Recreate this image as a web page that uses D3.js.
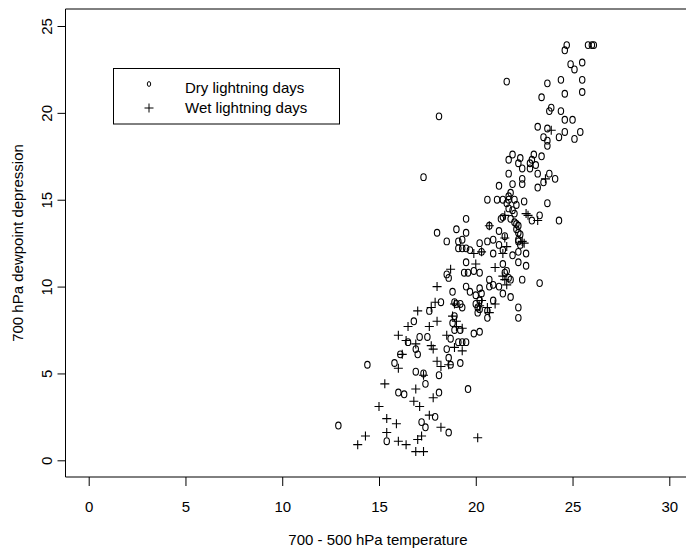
<!DOCTYPE html>
<html><head><meta charset="utf-8">
<script src="https://cdn.jsdelivr.net/npm/d3@7"></script>
<style>body{margin:0;background:#fff} text{font-family:"Liberation Sans",Arial,sans-serif;fill:#000}</style>
</head><body><svg id="c" width="686" height="550"></svg>
<script>
const dryX=[16.8,18.8,18.9,19.2,17.1,17.5,18.7,19.9,20.2,16.5,19.1,19.3,19.5,16.9,17.0,18.5,16.1,18.6,18.7,19.2,14.4,15.8,16.9,17.3,18.1,17.4,19.6,16.0,16.3,18.1,17.9,17.2,17.4,18.6,12.9,15.4,
20.6,21.1,21.4,21.7,21.8,22.0,22.1,22.5,23.7,21.7,21.9,22.0,23.3,22.9,21.4,21.3,21.8,22.0,22.1,19.5,20.7,21.2,22.1,22.2,22.3,22.2,21.5,18.0,19.0,19.5,18.5,19.3,19.1,20.2,20.6,20.9,21.2,22.2,22.3,19.1,19.3,19.5,19.7,20.3,20.9,21.4,22.2,22.6,21.9,19.5,21.4,22.2,22.6,18.5,18.6,19.4,19.6,19.9,20.2,21.6,21.5,21.7,21.8,20.7,22.4,23.3,20.7,20.9,21.2,19.5,19.7,18.8,20.2,20.3,21.4,21.8,20.0,20.2,20.9,18.2,18.9,19.0,19.2,19.3,20.0,20.1,20.2,20.1,20.6,20.6,22.2,22.2,17.6,18.9,
24.9,25.1,25.5,24.7,24.6,25.8,26.0,26.1,21.6,23.7,24.4,25.5,24.6,25.5,23.4,23.9,23.8,24.4,24.6,25.0,18.1,23.2,23.7,24.6,25.4,24.3,25.1,23.5,23.7,23.7,21.9,21.7,22.3,22.2,23.0,22.9,23.4,22.8,23.1,22.4,22.8,21.7,23.2,23.8,24.1,22.4,22.4,21.9,21.2,23.2,23.5,21.7,
21.6,24.3,22.2,17.3];
const dryY=[8.0,7.9,7.5,7.5,7.1,7.1,7.0,7.3,7.4,6.8,6.8,6.8,6.8,6.4,6.1,6.4,6.1,5.9,5.5,5.6,5.5,5.6,5.1,5.0,4.9,4.4,4.1,3.9,3.8,3.9,2.5,2.2,1.9,1.6,2.0,1.1,
15.0,15.0,15.0,15.0,15.4,15.0,14.7,14.9,14.8,14.5,14.4,14.2,14.1,13.8,14.0,13.9,13.9,13.7,13.6,13.9,13.5,13.2,13.3,13.1,13.0,12.7,12.9,13.1,13.3,13.1,12.6,12.7,12.6,12.5,12.6,12.7,12.4,12.6,12.4,12.2,12.2,12.2,12.1,12.0,11.9,12.1,12.0,11.9,11.8,11.4,11.3,11.4,11.2,10.7,10.5,10.8,10.8,10.9,10.8,10.9,10.8,10.5,10.4,10.4,10.4,10.2,10.0,10.1,10.0,10.0,9.7,9.7,9.9,9.6,9.6,9.4,9.5,9.2,9.2,9.1,9.1,9.0,9.0,8.8,9.0,8.8,8.7,8.5,8.6,8.2,8.8,8.2,8.6,8.3,
22.8,22.5,22.9,23.9,23.6,23.9,23.9,23.9,21.8,21.7,21.9,21.9,21.1,21.2,20.9,20.3,20.1,20.1,19.6,19.6,19.8,19.2,19.1,18.9,18.9,18.6,18.5,18.6,18.4,18.1,17.6,17.3,17.4,17.1,17.6,17.3,17.5,17.1,17.0,16.8,16.8,16.5,16.5,16.5,16.2,16.2,15.9,15.9,15.8,15.7,16.0,15.2,
14.8,13.8,13.5,16.3];
const wetX=[16.5,17.6,18.0,16.0,16.4,16.9,17.7,17.8,18.5,19.0,19.3,18.9,19.3,16.2,16.0,18.0,18.2,18.6,17.3,15.3,16.9,17.8,16.8,17.1,15.0,17.6,15.4,15.9,18.2,15.4,17.2,17.0,14.3,13.9,16.0,16.4,16.9,17.3,20.1,
21.5,22.6,22.7,23.2,20.7,21.5,22.4,22.5,21.6,19.9,20.3,21.4,20.0,21.0,18.7,21.4,21.5,21.6,18.0,20.3,21.0,20.6,20.7,18.9,17.9,17.7,17.0,18.8,19.0,20.2,
23.6,23.9];
const wetY=[7.7,7.7,8.0,7.2,6.9,6.7,6.6,6.4,7.2,7.7,7.6,6.5,6.3,6.1,5.3,5.7,5.4,5.5,4.9,4.4,4.1,3.6,3.4,3.1,3.1,2.6,2.4,2.1,1.9,1.6,1.4,1.2,1.4,0.9,1.1,0.9,0.5,0.5,1.3,
14.1,14.2,14.1,13.8,13.5,12.8,12.6,12.5,12.3,11.9,12.0,11.9,11.3,11.1,11.0,10.6,10.4,10.1,10.0,9.2,9.0,8.8,8.5,9.0,9.1,8.8,8.6,8.3,8.0,8.9,
16.2,19.0];
const xTicks=[0,5,10,15,20,25,30];
const yTicks=[0,5,10,15,20,25];
const legendLabels=["Dry lightning days","Wet lightning days"];
const xTitle="700 - 500 hPa temperature";
const yTitle="700 hPa dewpoint depression";

const svg=d3.select("#c");
const x=d3.scaleLinear().domain([0,30]).range([88.7,669.3]);
const y=d3.scaleLinear().domain([0,25]).range([460.3,26]);
const FS=15;

svg.append("path").attr("d","M700,9H65.5V477H700").attr("fill","none").attr("stroke","#000").attr("stroke-width",1);

const xa=svg.append("g").attr("transform","translate(0,477)")
  .call(d3.axisBottom(x).tickValues(xTicks).tickSize(9).tickFormat(d3.format("d")));
xa.select(".domain").remove();
xa.selectAll("line").attr("stroke","#000");
xa.selectAll("text").attr("y",34.7).attr("dy",null).attr("font-size",FS).attr("font-family",null);

const ya=svg.append("g").attr("transform","translate(65.5,0)")
  .call(d3.axisLeft(y).tickValues(yTicks).tickSize(8).tickFormat(d3.format("d")));
ya.select(".domain").remove();
ya.selectAll("line").attr("stroke","#000");
ya.selectAll("text").attr("x",0).attr("y",-13.5).attr("dy",null).attr("transform","rotate(-90)")
  .attr("text-anchor","middle").attr("font-size",FS).attr("font-family",null);

svg.append("g").selectAll("ellipse").data(d3.range(dryX.length)).join("ellipse")
  .attr("cx",i=>x(dryX[i])).attr("cy",i=>y(dryY[i])).attr("rx",2.7).attr("ry",3.4)
  .attr("fill","none").attr("stroke","#000").attr("stroke-width",1.1);

svg.append("g").selectAll("path").data(d3.range(wetX.length)).join("path")
  .attr("transform",i=>`translate(${x(wetX[i])},${y(wetY[i])})`)
  .attr("d","M-4.5,0H4.5M0,-4.5V4.5").attr("fill","none").attr("stroke","#000").attr("stroke-width",1.1);

// legend
const lg=svg.append("g");
lg.append("rect").attr("x",113.5).attr("y",68.5).attr("width",226).attr("height",55.5)
  .attr("fill","#fff").attr("stroke","#000").attr("stroke-width",1);
lg.append("ellipse").attr("cx",149).attr("cy",84).attr("rx",1.7).attr("ry",2.4)
  .attr("fill","none").attr("stroke","#000").attr("stroke-width",1);
lg.append("path").attr("transform","translate(149,108)").attr("d","M-4.5,0H4.5M0,-4.5V4.5")
  .attr("stroke","#000").attr("stroke-width",1);
lg.selectAll("text").data(legendLabels).join("text")
  .attr("x",185).attr("y",(d,i)=>93+i*19.5).attr("font-size",FS).text(d=>d);

svg.append("text").attr("x",378).attr("y",545).attr("text-anchor","middle").attr("font-size",FS).text(xTitle);
svg.append("text").attr("transform","translate(23,243) rotate(-90)").attr("text-anchor","middle").attr("font-size",FS).text(yTitle);
</script></body></html>
